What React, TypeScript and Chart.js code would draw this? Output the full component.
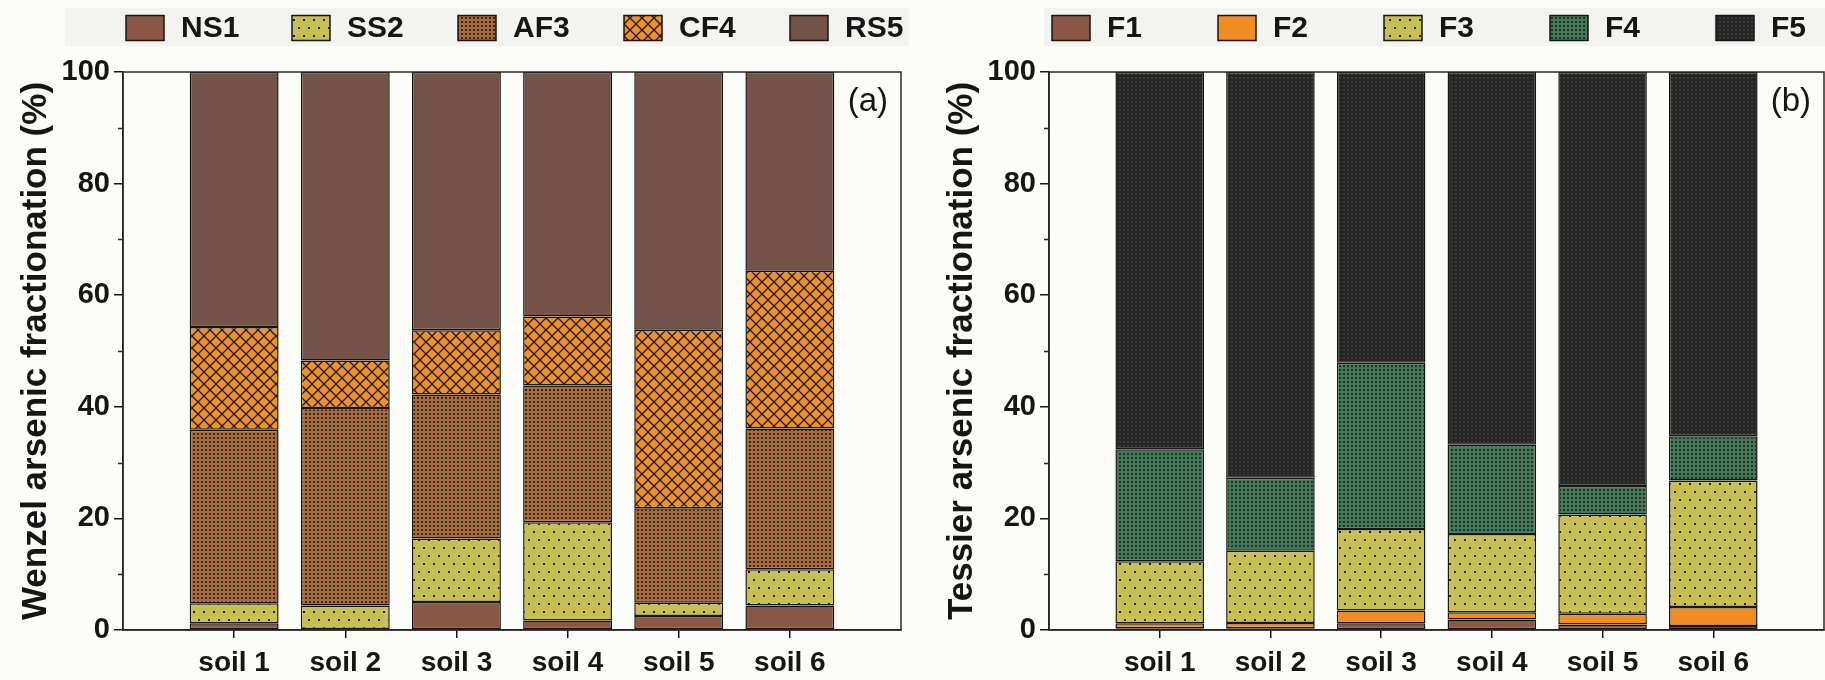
import React, { useEffect, useRef } from 'react';
import { Chart, registerables } from 'chart.js';

Chart.register(...registerables);

// ---------- data ----------
const categories = ['soil 1', 'soil 2', 'soil 3', 'soil 4', 'soil 5', 'soil 6'];
const yTicks = [0, 20, 40, 60, 80, 100];
const yMinorTicks = [10, 30, 50, 70, 90];

const wenzelLabels = ['NS1', 'SS2', 'AF3', 'CF4', 'RS5'];
const ns1 = [1.2, 0.2, 5.0, 1.7, 2.5, 4.4];
const ss2 = [3.6, 4.2, 11.4, 17.6, 2.4, 6.5];
const af3 = [31.1, 35.4, 25.8, 24.5, 16.9, 25.2];
const cf4 = [18.4, 8.5, 11.5, 12.4, 32.0, 28.3];
const rs5 = [45.7, 51.7, 46.3, 43.8, 46.2, 35.6];

const tessierLabels = ['F1', 'F2', 'F3', 'F4', 'F5'];
const f1 = [0.3, 0.3, 1.2, 1.9, 1.0, 0.7];
const f2 = [0.9, 0.95, 2.3, 1.3, 1.9, 3.4];
const f3 = [11.1, 12.95, 14.6, 14.0, 17.8, 22.7];
const f4 = [20.1, 13.1, 29.8, 16.0, 5.1, 7.9];
const f5 = [67.6, 72.7, 52.1, 66.8, 74.2, 65.3];

const FONT = '"Liberation Sans", Arial, sans-serif';
const INK = '#161616';

// ---------- patterns ----------
type Fill = string | CanvasPattern;

function tile(ctx: CanvasRenderingContext2D, w: number, h: number, bg: string, draw: (t: CanvasRenderingContext2D) => void): CanvasPattern {
  const c = document.createElement('canvas');
  c.width = w;
  c.height = h;
  const t = c.getContext('2d')!;
  t.fillStyle = bg;
  t.fillRect(0, 0, w, h);
  draw(t);
  return ctx.createPattern(c, 'repeat')!;
}

function sparseDots(ctx: CanvasRenderingContext2D, bg: string) {
  return tile(ctx, 10, 16, bg, (t) => {
    t.fillStyle = '#1e1e1e';
    t.fillRect(3, 3, 2, 2);
    t.fillRect(8, 11, 2, 2);
  });
}

function denseDots(ctx: CanvasRenderingContext2D, bg: string, dot: string) {
  return tile(ctx, 4, 4, bg, (t) => {
    t.fillStyle = dot;
    t.fillRect(1, 1, 2, 2);
  });
}

function crossHatch(ctx: CanvasRenderingContext2D, bg: string) {
  const s = 12;
  return tile(ctx, s, s, bg, (t) => {
    t.strokeStyle = '#1a1a1a';
    t.lineWidth = 1.3;
    for (const o of [-s, 0, s]) {
      t.beginPath();
      t.moveTo(o, 0);
      t.lineTo(o + s, s);
      t.moveTo(o + s, 0);
      t.lineTo(o, s);
      t.stroke();
    }
  });
}

// ---------- plugins ----------
const panelDecor = {
  id: 'panelDecor',
  beforeDraw(chart: any, _a: any, opts: any) {
    const { ctx, chartArea } = chart;
    ctx.save();
    ctx.fillStyle = opts.bandColor;
    ctx.fillRect(opts.bandLeft, 8, chartArea.right + opts.bandExtra - opts.bandLeft, 38);
    ctx.restore();
  },
  afterDatasetsDraw(chart: any, _a: any, opts: any) {
    const { ctx, chartArea, scales } = chart;
    ctx.save();
    // frame
    ctx.strokeStyle = '#2a2a2a';
    ctx.lineWidth = 1.5;
    ctx.strokeRect(chartArea.left, chartArea.top, chartArea.right - chartArea.left, chartArea.bottom - chartArea.top);
    // minor y ticks
    const y = scales.y;
    ctx.beginPath();
    for (const v of yMinorTicks) {
      const py = Math.round(y.getPixelForValue(v)) + 0.5;
      ctx.moveTo(chartArea.left - 5, py);
      ctx.lineTo(chartArea.left, py);
    }
    ctx.stroke();
    // panel tag
    ctx.fillStyle = INK;
    ctx.font = `33px ${FONT}`;
    ctx.textAlign = 'right';
    ctx.textBaseline = 'middle';
    ctx.fillText(opts.tag, chartArea.right - 13, chartArea.top + 30);
    ctx.restore();
  },
  afterDraw(chart: any, _a: any, opts: any) {
    const { ctx, chartArea } = chart;
    ctx.save();
    const bw = 38;
    const bh = 25;
    chart.data.datasets.forEach((ds: any, i: number) => {
      const x = chartArea.left + opts.start + i * opts.step;
      const cy = opts.y;
      ctx.fillStyle = ds.backgroundColor;
      ctx.fillRect(x, cy - bh / 2, bw, bh);
      ctx.strokeStyle = INK;
      ctx.lineWidth = 1.5;
      ctx.strokeRect(x, cy - bh / 2, bw, bh);
      ctx.fillStyle = INK;
      ctx.font = `bold 30px ${FONT}`;
      ctx.textAlign = 'left';
      ctx.textBaseline = 'middle';
      ctx.fillText(ds.label, x + bw + 17, cy + 1);
    });
    ctx.restore();
  },
};

// ---------- panel ----------
type PanelProps = {
  left: number;
  width: number;
  padRight: number;
  bandLeft: number;
  title: string;
  tag: string;
  labels: string[];
  series: number[][];
  fills: (ctx: CanvasRenderingContext2D) => Fill[];
};

function Panel({ left, width, padRight, bandLeft, title, tag, labels, series, fills }: PanelProps) {
  const ref = useRef<HTMLCanvasElement | null>(null);

  useEffect(() => {
    const canvas = ref.current!;
    const ctx = canvas.getContext('2d')!;
    const bg = fills(ctx);
    const datasets = labels.map((label, k) => ({
      label,
      data: series[k].map((v, i) => ({ x: i + 1, y: v })),
      backgroundColor: bg[k],
      borderColor: INK,
      borderWidth: 1.5,
      borderSkipped: false as const,
      barPercentage: 0.8,
      categoryPercentage: 1,
    }));

    const chart = new Chart(canvas, {
      type: 'bar',
      data: { datasets },
      plugins: [panelDecor],
      options: {
        responsive: false,
        animation: false,
        devicePixelRatio: 1,
        layout: { padding: { top: 72, left: 0, right: padRight, bottom: 0 } },
        plugins: {
          legend: { display: false },
          tooltip: { enabled: false },
          panelDecor: { tag, start: 3, step: 166, y: 28, bandColor: '#f3f3ef', bandLeft, bandExtra: 8 },
        } as any,
        scales: {
          x: {
            type: 'linear',
            stacked: true,
            min: 0,
            max: categories.length + 1,
            offset: false,
            afterBuildTicks: (axis: any) => {
              axis.ticks = categories.map((_, i) => ({ value: i + 1 }));
            },
            afterFit: (axis: any) => {
              axis.height = 50;
            },
            grid: { display: true, drawOnChartArea: false, drawTicks: true, tickLength: 8, color: INK, lineWidth: 1.5, offset: false },
            border: { display: true, color: INK, width: 1.5 },
            ticks: {
              autoSkip: false,
              maxRotation: 0,
              padding: 8,
              color: INK,
              font: { family: FONT, size: 28, weight: 'bold' },
              callback: (v: any) => categories[Number(v) - 1] ?? '',
            },
          },
          y: {
            type: 'linear',
            stacked: true,
            min: 0,
            max: 100,
            afterBuildTicks: (axis: any) => {
              axis.ticks = yTicks.map((v) => ({ value: v }));
            },
            afterFit: (axis: any) => {
              axis.width = 123;
            },
            grid: { display: true, drawOnChartArea: false, drawTicks: true, tickLength: 9, color: INK, lineWidth: 1.5 },
            border: { display: true, color: INK, width: 1.5 },
            ticks: {
              padding: 4,
              color: INK,
              font: { family: FONT, size: 29, weight: 'bold' },
              callback: (v: any) => String(v),
            },
            title: {
              display: true,
              text: title,
              color: INK,
              font: { family: FONT, size: 35, weight: 'bold' },
              padding: { top: 15, bottom: 0 },
            },
          },
        },
      } as any,
    });
    return () => chart.destroy();
  }, []);

  return (
    <canvas
      ref={ref}
      width={width}
      height={680}
      style={{ position: 'absolute', left, top: 0, width, height: 680 }}
    />
  );
}

export default function App() {
  return (
    <div
      style={{
        position: 'fixed',
        left: 0,
        top: 0,
        width: 1825,
        height: 680,
        background: '#fcfcf8',
        overflow: 'hidden',
      }}
    >
      <Panel
        left={0}
        width={912}
        padRight={11}
        bandLeft={65}
        title="Wenzel arsenic fractionation (%)"
        tag="(a)"
        labels={wenzelLabels}
        series={[ns1, ss2, af3, cf4, rs5]}
        fills={(ctx) => [
          '#8c5846',
          sparseDots(ctx, '#c9c052'),
          denseDots(ctx, '#a86c3a', '#3a2412'),
          crossHatch(ctx, '#f0902a'),
          '#745449',
        ]}
      />
      <Panel
        left={926}
        width={899}
        padRight={1}
        bandLeft={118}
        title="Tessier arsenic fractionation (%)"
        tag="(b)"
        labels={tessierLabels}
        series={[f1, f2, f3, f4, f5]}
        fills={(ctx) => [
          '#8c5846',
          '#f08c22',
          sparseDots(ctx, '#c9c052'),
          denseDots(ctx, '#467658', '#1d3526'),
          denseDots(ctx, '#262626', '#383838'),
        ]}
      />
    </div>
  );
}
